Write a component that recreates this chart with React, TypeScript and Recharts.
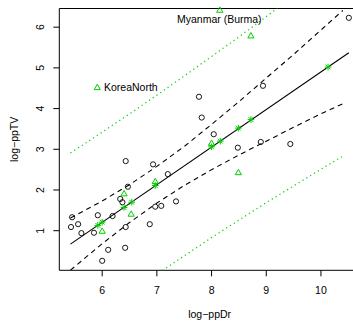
import React from 'react';
import { ComposedChart, Line, Scatter, XAxis, YAxis, ReferenceArea } from 'recharts';

const FONT = '"Liberation Sans", Arial, Helvetica, sans-serif';
const GREEN = '#00CD00';

// axis setup
const xTicks = [6, 7, 8, 9, 10];
const yTicks = [1, 2, 3, 4, 5, 6];
const xDomain: [number, number] = [5.216, 10.714];
const yDomain: [number, number] = [0.027, 6.459];

// observed countries: log people per doctor vs log people per TV
const obsX = [5.45, 5.43, 5.56, 5.62, 5.85, 5.92, 6.0, 6.11, 6.19, 6.43, 6.47, 6.33, 6.37, 6.43, 6.42,
  6.87, 6.93, 6.97, 7.08, 7.2, 7.35, 7.77, 7.82, 8.04, 8.48, 8.9, 9.44, 8.94, 10.51];
const obsY = [1.33, 1.09, 1.16, 0.94, 0.95, 1.38, 0.26, 0.53, 1.36, 2.71, 2.08, 1.78, 1.7, 1.09, 0.58,
  1.16, 2.63, 1.59, 1.61, 2.39, 1.72, 4.29, 3.78, 3.37, 3.04, 3.18, 3.13, 4.56, 6.23];

// held-out countries
const newX = [5.91, 6.0, 6.4, 6.53, 6.97, 8.0, 8.15, 8.49, 8.72];
const newY = [4.51, 0.98, 1.9, 1.4, 2.2, 3.14, 6.41, 2.42, 5.78];
const newNames = ['KoreaNorth', '', '', '', '', '', 'Myanmar (Burma)', '', ''];

// fitted values for held-out countries
const fitX = [5.92, 6.0, 6.4, 6.54, 6.97, 8.0, 8.16, 8.49, 8.72, 10.13];
const fitY = [1.13, 1.21, 1.57, 1.7, 2.11, 3.06, 3.2, 3.52, 3.73, 5.02];

// regression line
const lineX = [5.42, 10.51];
const lineY = [0.67, 5.37];

// confidence and prediction bands
const bandX = [5.42, 6, 6.5, 7, 7.5, 8, 8.5, 9, 9.5, 10, 10.4];
const confUpper = [1.31, 1.73, 2.13, 2.58, 3.07, 3.61, 4.17, 4.75, 5.33, 5.93, 6.41];
const confLower = [0.03, 0.68, 1.2, 1.68, 2.11, 2.5, 2.86, 3.2, 3.54, 3.87, 4.12];
const predUpper = [2.91, 3.42, 3.87, 4.33, 4.8, 5.28, 5.76, 6.26, 6.77, 7.29, 7.7];
const predLower = [-1.57, -1.01, -0.54, -0.07, 0.38, 0.83, 1.26, 1.69, 2.1, 2.51, 2.83];

const zipXY = (xs: number[], ys: number[]) => xs.map((x, i) => ({ x, y: ys[i] }));

const obsData = zipXY(obsX, obsY);
const newData = newX.map((x, i) => ({ x, y: newY[i], name: newNames[i] }));
const fitData = zipXY(fitX, fitY);
const lineData = zipXY(lineX, lineY);
const confUpperData = zipXY(bandX, confUpper);
const confLowerData = zipXY(bandX, confLower);
const predUpperData = zipXY(bandX, predUpper);
const predLowerData = zipXY(bandX, predLower);

const OpenCircle = (props: any) => {
  const { cx, cy } = props;
  if (cx == null || cy == null) return null;
  return <circle cx={cx} cy={cy} r={2.6} fill="none" stroke="#000" strokeWidth={0.9} />;
};

const Triangle = (props: any) => {
  const { cx, cy, payload } = props;
  if (cx == null || cy == null) return null;
  const s = 6.2;
  const h = s * 0.866;
  const pts = `${cx},${cy - (2 * h) / 3} ${cx - s / 2},${cy + h / 3} ${cx + s / 2},${cy + h / 3}`;
  const name = payload?.name;
  let label = null;
  if (name === 'KoreaNorth') {
    label = (
      <text x={cx + 6.7} y={cy + 3.4} textAnchor="start" fontSize={10.5} fontFamily={FONT} fill="#000">
        {name}
      </text>
    );
  } else if (name) {
    label = (
      <text x={cx - 0.5} y={cy + 12.5} textAnchor="middle" fontSize={10.5} fontFamily={FONT} fill="#000">
        {name}
      </text>
    );
  }
  return (
    <g>
      <polygon points={pts} fill="none" stroke={GREEN} strokeWidth={1} />
      {label}
    </g>
  );
};

const Asterisk = (props: any) => {
  const { cx, cy } = props;
  if (cx == null || cy == null) return null;
  const r = 3.3;
  const d = r * 0.72;
  return (
    <g stroke={GREEN} strokeWidth={1}>
      <line x1={cx - r} y1={cy} x2={cx + r} y2={cy} />
      <line x1={cx} y1={cy - r} x2={cx} y2={cy + r} />
      <line x1={cx - d} y1={cy - d} x2={cx + d} y2={cy + d} />
      <line x1={cx - d} y1={cy + d} x2={cx + d} y2={cy - d} />
    </g>
  );
};

const XTick = (props: any) => {
  const { x, payload } = props;
  return (
    <text x={x} y={294.2} textAnchor="middle" fontSize={10.5} fontFamily={FONT} fill="#000">
      {payload.value}
    </text>
  );
};

const YTick = (props: any) => {
  const { y, payload } = props;
  const bx = 44.2;
  return (
    <text x={bx} y={y} transform={`rotate(-90 ${bx} ${y})`} textAnchor="middle" fontSize={10.5} fontFamily={FONT} fill="#000">
      {payload.value}
    </text>
  );
};

const XTitle = (props: any) => {
  const vb = props.viewBox || {};
  const cx = (vb.x ?? 59.3) + (vb.width ?? 300.7) / 2;
  return (
    <text x={cx} y={317.8} textAnchor="middle" fontSize={10.5} fontFamily={FONT} fill="#000">
      log−ppDr
    </text>
  );
};

const YTitle = (props: any) => {
  const vb = props.viewBox || {};
  const cy = (vb.y ?? 8.5) + (vb.height ?? 261.8) / 2;
  const bx = 17.8;
  return (
    <text x={bx} y={cy} transform={`rotate(-90 ${bx} ${cy})`} textAnchor="middle" fontSize={10.5} fontFamily={FONT} fill="#000">
      log−ppTV
    </text>
  );
};

export default function App() {
  return (
    <div style={{ position: 'absolute', left: 0, top: 0, width: 353, height: 322, overflow: 'hidden', background: '#fff' }}>
      <ComposedChart width={361} height={322} margin={{ top: 8.5, right: 1, bottom: 0, left: 0 }}>
        <XAxis
          type="number"
          dataKey="x"
          domain={xDomain}
          ticks={xTicks}
          interval={0}
          height={51.7}
          axisLine={false}
          tickSize={6}
          tickLine={{ stroke: '#000', strokeWidth: 1 }}
          tick={<XTick />}
          label={{ content: <XTitle /> }}
        />
        {/* axis used by the band lines, which run past the plot edges and are clipped */}
        <YAxis
          yAxisId="bands"
          type="number"
          dataKey="y"
          domain={yDomain}
          allowDataOverflow
          ticks={yTicks}
          interval={0}
          width={59.3}
          axisLine={false}
          tickSize={6}
          tickLine={{ stroke: '#000', strokeWidth: 1 }}
          tick={<YTick />}
          label={{ content: <YTitle /> }}
        />
        {/* same scale for the point marks, left unclipped */}
        <YAxis yAxisId="points" type="number" dataKey="y" domain={yDomain} ticks={yTicks} hide />
        <ReferenceArea
          yAxisId="bands"
          x1={xDomain[0]}
          x2={xDomain[1]}
          y1={yDomain[0]}
          y2={yDomain[1]}
          fill="none"
          fillOpacity={0}
          stroke="#000"
          strokeWidth={1}
          ifOverflow="visible"
        />
        <Line yAxisId="bands" data={predUpperData} dataKey="y" type="linear" stroke={GREEN} strokeWidth={1.2} strokeDasharray="1.2 3.3" dot={false} activeDot={false} isAnimationActive={false} />
        <Line yAxisId="bands" data={predLowerData} dataKey="y" type="linear" stroke={GREEN} strokeWidth={1.2} strokeDasharray="1.2 3.3" dot={false} activeDot={false} isAnimationActive={false} />
        <Line yAxisId="bands" data={confUpperData} dataKey="y" type="linear" stroke="#000" strokeWidth={1.1} strokeDasharray="5 4" dot={false} activeDot={false} isAnimationActive={false} />
        <Line yAxisId="bands" data={confLowerData} dataKey="y" type="linear" stroke="#000" strokeWidth={1.1} strokeDasharray="5 4" dot={false} activeDot={false} isAnimationActive={false} />
        <Line yAxisId="bands" data={lineData} dataKey="y" type="linear" stroke="#000" strokeWidth={1.1} dot={false} activeDot={false} isAnimationActive={false} />
        <Scatter yAxisId="points" data={obsData} dataKey="y" shape={<OpenCircle />} isAnimationActive={false} />
        <Scatter yAxisId="points" data={newData} dataKey="y" shape={<Triangle />} isAnimationActive={false} />
        <Scatter yAxisId="points" data={fitData} dataKey="y" shape={<Asterisk />} isAnimationActive={false} />
      </ComposedChart>
    </div>
  );
}
